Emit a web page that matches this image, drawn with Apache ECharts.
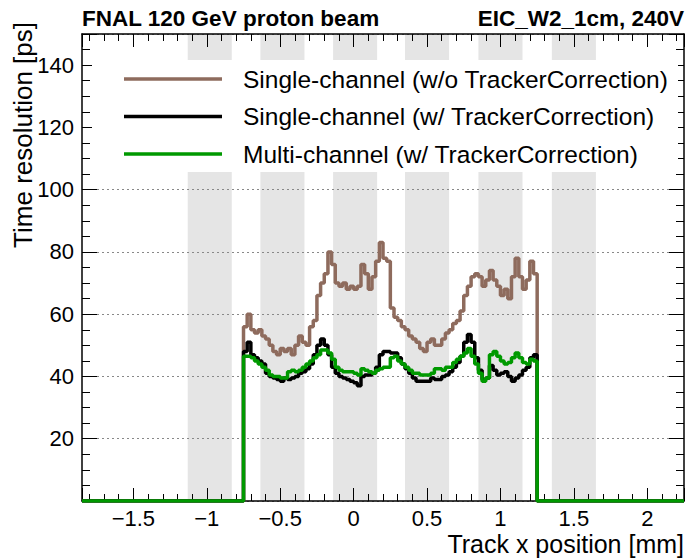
<!DOCTYPE html>
<html>
<head>
<meta charset="utf-8">
<script src="https://cdn.jsdelivr.net/npm/echarts@6/dist/echarts.min.js"></script>
<style>
html,body{margin:0;padding:0;background:#fff;}
#chart{width:687px;height:558px;}
</style>
</head>
<body>
<div id="chart"></div>
<script>
// ---------- data ----------
const titleLeft = 'FNAL 120 GeV proton beam';
const titleRight = 'EIC_W2_1cm, 240V';
const xTitle = 'Track x position [mm]';
const yTitle = 'Time resolution [ps]';
const seriesNames = [
  'Single-channel (w/o TrackerCorrection)',
  'Single-channel (w/ TrackerCorrection)',
  'Multi-channel (w/ TrackerCorrection)'
];
const xRange = [-1.85, 2.25];
const yRange = [0, 150];
const binLowEdge = -0.75;
const binWidth = 0.025;
// gray strip regions (pads) in mm
const padBands = [[-1.13, -0.83], [-0.635, -0.335], [-0.14, 0.16], [0.35, 0.65], [0.85, 1.15], [1.35, 1.65]];

const singleNoCorr = [
  56, 60, 55, 54, 55, 53, 52, 50, 48, 47, 49, 48, 49, 47, 50, 53, 51, 50, 56, 58,
  66, 70, 73, 80, 76, 70, 69, 70, 68, 69, 68, 69, 76, 73, 68, 72, 77, 83, 78, 77,
  62, 59, 58, 56, 55, 53, 52, 51, 49, 48, 51, 52, 50, 50, 52, 54, 55, 57, 58, 61,
  66, 69, 72, 73, 72, 69, 71, 74, 71, 69, 66, 68, 65, 72, 78, 72, 68, 71, 77, 73
];
const singleCorr = [
  48, 51, 47, 46, 45, 44, 41, 40, 39.5, 39, 38.5, 39.5, 39, 39.5, 40, 41, 41.5, 42.5, 44, 47,
  50, 52, 50, 47, 43, 41, 40, 39.5, 39, 38.5, 38, 37, 40, 40.5, 40.5, 41, 43, 47, 48, 48,
  47.5, 47.5, 46, 44, 42.5, 41, 39.5, 38.5, 38.5, 38.5, 38.5, 39.5, 39, 39, 40, 40.5, 41.5, 43, 44.5, 46.5,
  51, 53.5, 51, 46, 42, 39, 39.5, 43.5, 42, 40.5, 41, 41.5, 40, 38.5, 39.5, 40.5, 42, 43, 46, 47
];
const multiCorr = [
  46.5, 46.5, 46, 45, 44, 43, 42, 40.5, 40, 40, 39.5, 39.5, 41.5, 42, 41.5, 42, 43, 44, 45, 46,
  47, 48.5, 48.5, 47.5, 45.5, 43, 42, 41.5, 41.5, 41.5, 41, 40.5, 42.5, 42, 41.5, 41, 42, 42.5, 43, 43,
  46, 46.5, 45, 44, 43, 42, 41, 41, 40.5, 40.5, 40.5, 41, 42.5, 42.5, 42, 43, 43, 44.5, 45.5, 46.5,
  47.5, 49, 46.5, 44, 41, 38.5, 39.5, 47, 48, 46.5, 45, 44, 44.5, 46, 47.5, 46, 44.5, 44, 45.5, 45
];
const seriesColors = ['#8e6b5d', '#000000', '#009900'];

// ---------- build ----------
function histPoints(vals) {
  const pts = [[xRange[0], 0]];
  vals.forEach((v, i) => pts.push([binLowEdge + i * binWidth, v]));
  pts.push([binLowEdge + vals.length * binWidth, 0]);
  pts.push([xRange[1], 0]);
  return pts;
}
const FONT = '"Liberation Sans", Arial, Helvetica, sans-serif';
const isMult = (v, s) => Math.abs(v / s - Math.round(v / s)) < 1e-6;
const fmtX = v => isMult(v, 0.5) ? String(+v.toFixed(2)).replace('-', '\u2212') : '';
const fmtY = v => (isMult(v, 20) && v > 0) ? String(v) : '';

function xAxisCfg(pos, showLabel) {
  return {
    type: 'value', position: pos, min: xRange[0], max: xRange[1], splitNumber: 8,
    z: 2,
    axisLine: { show: true, onZero: false, lineStyle: { color: '#000', width: 1.5 } },
    axisTick: { show: true, inside: true, length: 13, lineStyle: { color: '#000', width: 1 } },
    minorTick: { show: true, splitNumber: 5, length: 7, lineStyle: { color: '#000', width: 1 } },
    axisLabel: { show: showLabel, formatter: fmtX, color: '#000', fontSize: 22, fontFamily: FONT, margin: 6 },
    splitLine: { show: false }
  };
}
function yAxisCfg(pos, showLabel, grid) {
  return {
    type: 'value', position: pos, min: yRange[0], max: yRange[1], interval: 20,
    z: 2,
    axisLine: { show: true, onZero: false, lineStyle: { color: '#000', width: 1.5 } },
    axisTick: { show: true, inside: true, length: 15, lineStyle: { color: '#000', width: 1 } },
    minorTick: { show: true, splitNumber: 4, length: 8, lineStyle: { color: '#000', width: 1 } },
    axisLabel: { show: showLabel, formatter: fmtY, color: '#000', fontSize: 22, fontFamily: FONT, margin: 8 },
    splitLine: { show: grid, lineStyle: { color: '#888', width: 1, type: [2, 3] } }
  };
}

const dataSets = [singleNoCorr, singleCorr, multiCorr];
const series = [{
  type: 'line', data: [], z: 1, silent: true, symbol: 'none',
  markArea: {
    silent: true,
    itemStyle: { color: '#e5e5e5' },
    data: padBands.map(b => [{ xAxis: b[0], yAxis: yRange[0] }, { xAxis: b[1], yAxis: yRange[1] }])
  }
}];
dataSets.forEach((d, i) => {
  series.push({
    name: seriesNames[i], type: 'line', step: 'end', data: histPoints(d),
    showSymbol: false, symbol: 'none', z: 3 + i, animation: false,
    lineStyle: { color: seriesColors[i], width: 3.5 }, itemStyle: { color: seriesColors[i] }
  });
});

const chart = echarts.init(document.getElementById('chart'), null, { renderer: 'svg' });
chart.setOption({
  animation: false,
  backgroundColor: '#fff',
  grid: { left: 82, right: 3, top: 34, bottom: 57, containLabel: false, outerBoundsMode: 'none' },
  xAxis: [xAxisCfg('bottom', true), xAxisCfg('top', false)],
  yAxis: [yAxisCfg('left', true, true), yAxisCfg('right', false, false)],
  legend: {
    show: true, orient: 'vertical', left: 119, top: 60, z: 20,
    data: seriesNames, icon: 'rect', itemWidth: 98, itemHeight: 3.5, itemGap: 9.5,
    selectedMode: false,
    textStyle: { color: '#000', fontSize: 24.5, fontFamily: FONT, lineHeight: 28, padding: [0, 0, 0, 16] }
  },
  graphic: [
    { type: 'rect', z: 10, shape: { x: 92, y: 60, width: 586, height: 112 }, style: { fill: '#fff' } },
    { type: 'text', z: 20, x: 82, y: 18, style: { text: titleLeft, font: 'bold 22.5px ' + FONT, fill: '#000', textAlign: 'left', textVerticalAlign: 'middle' } },
    { type: 'text', z: 20, x: 684, y: 18, style: { text: titleRight, font: 'bold 22.5px ' + FONT, fill: '#000', textAlign: 'right', textVerticalAlign: 'middle' } },
    { type: 'text', z: 20, x: 684, y: 544, style: { text: xTitle, font: '25px ' + FONT, fill: '#000', textAlign: 'right', textVerticalAlign: 'middle' } },
    { type: 'text', z: 20, x: 23, y: 22, rotation: Math.PI / 2, style: { text: yTitle, font: '26px ' + FONT, fill: '#000', textAlign: 'right', textVerticalAlign: 'middle' } }
  ],
  series: series
});
</script>
</body>
</html>
